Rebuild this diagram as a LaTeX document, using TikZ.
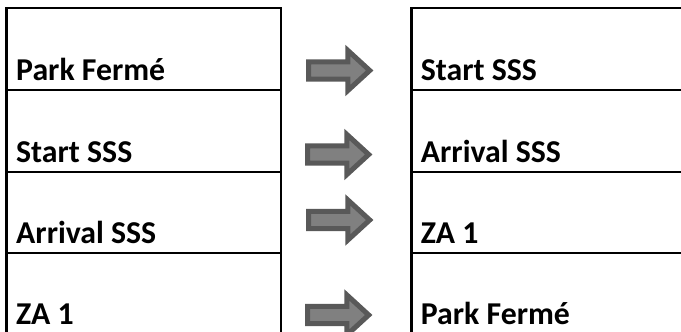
\documentclass[tikz,border=0pt]{standalone}
\usepackage{fontspec}
\setmainfont{Carlito}
\usetikzlibrary{shapes.arrows}
\definecolor{arrowline}{HTML}{595959}
\definecolor{arrowfill}{HTML}{808080}
\tikzset{
	grid/.style={line width=2.5pt},
	cell/.style={anchor=base west,inner sep=0pt,font=\bfseries\fontsize{31.8}{38}\selectfont},
	move/.style={single arrow,draw=arrowline,fill=arrowfill,line width=5pt,
		minimum height=61pt,minimum width=35pt,inner sep=6.15pt,
		single arrow head extend=11.35pt,single arrow tip angle=85}
}
\begin{document}
\begin{tikzpicture}[x=1pt,y=-1pt]
			\useasboundingbox (0,0) rectangle (681,332);
			% left table
			\draw[grid] (6.7,332) -- (6.7,8) -- (281,8) -- (281,332);
			\draw[grid] (6.7,90) -- (281,90) (6.7,172) -- (281,172) (6.7,253) -- (281,253);
			\node[cell] (lpark) at (16,80.5) {Park Fermé};
			\node[cell] (lstart) at (16,162) {Start SSS};
			\node[cell] (larr) at (16,243) {Arrival SSS};
			\node[cell] (lza) at (16,324) {ZA 1};
			% right table
			\draw[grid] (411.7,332) -- (411.7,8) -- (681,8);
			\draw[grid] (411.7,90) -- (681,90) (411.7,172) -- (681,172) (411.7,253) -- (681,253);
			\node[cell] (rstart) at (420.7,80.5) {Start SSS};
			\node[cell] (rarr) at (420.7,162) {Arrival SSS};
			\node[cell] (rza) at (420.7,243) {ZA 1};
			\node[cell] (rpark) at (420.7,324) {Park Fermé};
			% arrows
			\node[move] (m1) at (334.5,70.5) {};
			\node[move] (m2) at (333.5,154.5) {};
			\node[move] (m3) at (334.5,220) {};
			\node[move] (m4) at (333.5,315) {};
		\end{tikzpicture}
\end{document}
